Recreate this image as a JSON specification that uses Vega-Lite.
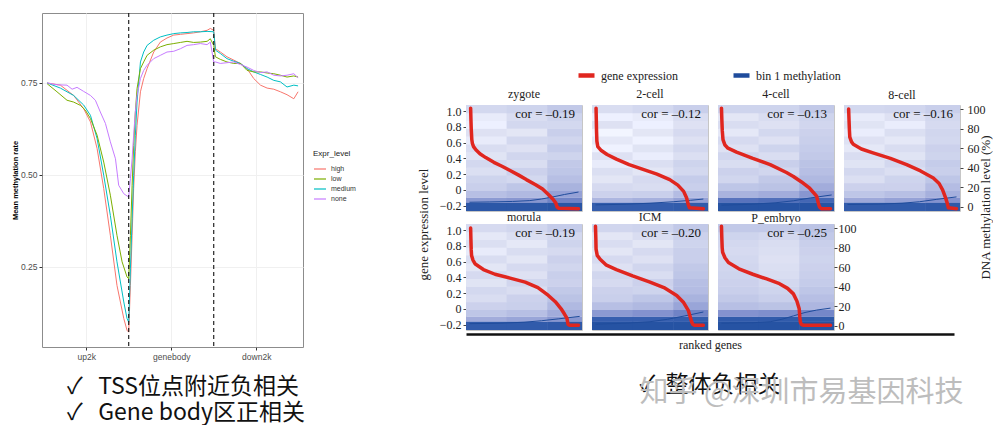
{
"$schema":"https://vega.github.io/schema/vega-lite/v6.json",
"background":"white",
"padding":{"left":10,"top":11,"right":0,"bottom":0},
"config":{"font":"Liberation Serif","view":{"stroke":"#c6c6c6","strokeWidth":1},"title":{"font":"Liberation Serif","fontSize":12,"fontWeight":"normal","color":"#222"},"axis":{"grid":false,"labelOverlap":false}},
"datasets":{
"prof":[
{"e":"high","x":2,"v":0.75},{"e":"high","x":9.8,"v":0.744},{"e":"high","x":17.6,"v":0.716},{"e":"high","x":23.5,"v":0.68},{"e":"high","x":27.5,"v":0.644},{"e":"high","x":31.4,"v":0.572},{"e":"high","x":35.3,"v":0.463},{"e":"high","x":39.2,"v":0.336},{"e":"high","x":43.1,"v":0.2},{"e":"high","x":47.1,"v":0.11},{"e":"high","x":49,"v":0.078},{"e":"high","x":50,"v":0.073},
{"e":"high","x":51,"v":0.2},{"e":"high","x":52,"v":0.336},{"e":"high","x":52.9,"v":0.463},{"e":"high","x":53.9,"v":0.563},{"e":"high","x":54.9,"v":0.635},{"e":"high","x":56.9,"v":0.726},{"e":"high","x":58.8,"v":0.762},{"e":"high","x":60.8,"v":0.789},{"e":"high","x":64.7,"v":0.834},{"e":"high","x":68.6,"v":0.861},{"e":"high","x":72.5,"v":0.872},{"e":"high","x":76.5,"v":0.88},{"e":"high","x":80.4,"v":0.882},{"e":"high","x":84.3,"v":0.884},{"e":"high","x":88.2,"v":0.886},{"e":"high","x":92.2,"v":0.889},{"e":"high","x":96.1,"v":0.893},{"e":"high","x":98,"v":0.898},{"e":"high","x":100,"v":0.893},
{"e":"high","x":101,"v":0.843},{"e":"high","x":103.9,"v":0.834},{"e":"high","x":107.8,"v":0.821},{"e":"high","x":111.8,"v":0.812},{"e":"high","x":115.7,"v":0.803},{"e":"high","x":119.6,"v":0.789},{"e":"high","x":123.5,"v":0.762},{"e":"high","x":127.5,"v":0.744},{"e":"high","x":131.4,"v":0.736},{"e":"high","x":135.3,"v":0.733},{"e":"high","x":139.2,"v":0.726},{"e":"high","x":143.1,"v":0.718},{"e":"high","x":147.1,"v":0.707},{"e":"high","x":149.6,"v":0.726},
{"e":"medium","x":2,"v":0.75},{"e":"medium","x":9.8,"v":0.736},{"e":"medium","x":17.6,"v":0.716},{"e":"medium","x":23.5,"v":0.69},{"e":"medium","x":27.5,"v":0.662},{"e":"medium","x":31.4,"v":0.599},{"e":"medium","x":35.3,"v":0.499},{"e":"medium","x":39.2,"v":0.39},{"e":"medium","x":43.1,"v":0.264},{"e":"medium","x":47.1,"v":0.155},{"e":"medium","x":49,"v":0.11},{"e":"medium","x":50,"v":0.1},
{"e":"medium","x":51,"v":0.245},{"e":"medium","x":52,"v":0.381},{"e":"medium","x":52.9,"v":0.499},{"e":"medium","x":53.9,"v":0.608},{"e":"medium","x":54.9,"v":0.698},{"e":"medium","x":56.9,"v":0.807},{"e":"medium","x":58.8,"v":0.834},{"e":"medium","x":60.8,"v":0.852},{"e":"medium","x":64.7,"v":0.866},{"e":"medium","x":68.6,"v":0.875},{"e":"medium","x":72.5,"v":0.88},{"e":"medium","x":76.5,"v":0.884},{"e":"medium","x":80.4,"v":0.886},{"e":"medium","x":84.3,"v":0.887},{"e":"medium","x":88.2,"v":0.889},{"e":"medium","x":92.2,"v":0.889},{"e":"medium","x":96.1,"v":0.89},{"e":"medium","x":100,"v":0.889},
{"e":"medium","x":101,"v":0.839},{"e":"medium","x":103.9,"v":0.83},{"e":"medium","x":107.8,"v":0.816},{"e":"medium","x":111.8,"v":0.809},{"e":"medium","x":115.7,"v":0.803},{"e":"medium","x":119.6,"v":0.789},{"e":"medium","x":123.5,"v":0.78},{"e":"medium","x":127.5,"v":0.773},{"e":"medium","x":131.4,"v":0.766},{"e":"medium","x":135.3,"v":0.757},{"e":"medium","x":139.2,"v":0.753},{"e":"medium","x":143.1,"v":0.739},{"e":"medium","x":147.1,"v":0.744},{"e":"medium","x":149.6,"v":0.742},
{"e":"low","x":2,"v":0.748},{"e":"low","x":7.8,"v":0.726},{"e":"low","x":13.7,"v":0.703},{"e":"low","x":17.6,"v":0.698},{"e":"low","x":21.6,"v":0.689},{"e":"low","x":24.5,"v":0.676},{"e":"low","x":27.5,"v":0.653},{"e":"low","x":31.4,"v":0.608},{"e":"low","x":35.3,"v":0.535},{"e":"low","x":39.2,"v":0.445},{"e":"low","x":43.1,"v":0.336},{"e":"low","x":46.1,"v":0.264},{"e":"low","x":49,"v":0.223},{"e":"low","x":50,"v":0.218},
{"e":"low","x":51,"v":0.336},{"e":"low","x":52,"v":0.472},{"e":"low","x":52.9,"v":0.58},{"e":"low","x":53.9,"v":0.671},{"e":"low","x":54.9,"v":0.735},{"e":"low","x":56.9,"v":0.789},{"e":"low","x":58.8,"v":0.807},{"e":"low","x":60.8,"v":0.825},{"e":"low","x":64.7,"v":0.839},{"e":"low","x":68.6,"v":0.848},{"e":"low","x":72.5,"v":0.854},{"e":"low","x":76.5,"v":0.857},{"e":"low","x":80.4,"v":0.86},{"e":"low","x":84.3,"v":0.863},{"e":"low","x":88.2,"v":0.86},{"e":"low","x":92.2,"v":0.861},{"e":"low","x":96.1,"v":0.863},{"e":"low","x":98,"v":0.87},{"e":"low","x":100,"v":0.852},
{"e":"low","x":101,"v":0.821},{"e":"low","x":103.9,"v":0.814},{"e":"low","x":107.8,"v":0.807},{"e":"low","x":111.8,"v":0.803},{"e":"low","x":115.7,"v":0.803},{"e":"low","x":119.6,"v":0.784},{"e":"low","x":123.5,"v":0.78},{"e":"low","x":127.5,"v":0.78},{"e":"low","x":131.4,"v":0.777},{"e":"low","x":135.3,"v":0.775},{"e":"low","x":139.2,"v":0.771},{"e":"low","x":143.1,"v":0.766},{"e":"low","x":147.1,"v":0.769},{"e":"low","x":149.6,"v":0.766},
{"e":"none","x":2,"v":0.75},{"e":"none","x":7.8,"v":0.745},{"e":"none","x":13.7,"v":0.744},{"e":"none","x":16.7,"v":0.733},{"e":"none","x":19.6,"v":0.738},{"e":"none","x":23.5,"v":0.727},{"e":"none","x":27.5,"v":0.716},{"e":"none","x":30.4,"v":0.703},{"e":"none","x":33.3,"v":0.671},{"e":"none","x":36.3,"v":0.64},{"e":"none","x":39.2,"v":0.59},{"e":"none","x":42.2,"v":0.544},{"e":"none","x":44.1,"v":0.472},{"e":"none","x":47.1,"v":0.449},{"e":"none","x":50,"v":0.44},
{"e":"none","x":51,"v":0.49},{"e":"none","x":52,"v":0.544},{"e":"none","x":52.9,"v":0.608},{"e":"none","x":53.9,"v":0.671},{"e":"none","x":54.9,"v":0.716},{"e":"none","x":56.9,"v":0.762},{"e":"none","x":58.8,"v":0.784},{"e":"none","x":60.8,"v":0.798},{"e":"none","x":64.7,"v":0.816},{"e":"none","x":68.6,"v":0.825},{"e":"none","x":72.5,"v":0.834},{"e":"none","x":76.5,"v":0.836},{"e":"none","x":80.4,"v":0.843},{"e":"none","x":84.3,"v":0.852},{"e":"none","x":88.2,"v":0.854},{"e":"none","x":92.2,"v":0.857},{"e":"none","x":96.1,"v":0.854},{"e":"none","x":98,"v":0.861},{"e":"none","x":100,"v":0.807},
{"e":"none","x":101,"v":0.807},{"e":"none","x":103.9,"v":0.803},{"e":"none","x":107.8,"v":0.805},{"e":"none","x":111.8,"v":0.807},{"e":"none","x":115.7,"v":0.8},{"e":"none","x":119.6,"v":0.793},{"e":"none","x":123.5,"v":0.784},{"e":"none","x":127.5,"v":0.778},{"e":"none","x":131.4,"v":0.78},{"e":"none","x":135.3,"v":0.771},{"e":"none","x":139.2,"v":0.769},{"e":"none","x":143.1,"v":0.771},{"e":"none","x":147.1,"v":0.775},{"e":"none","x":149.6,"v":0.764}
],
"bands":[{"b":0,"m":-4.5,"m2":4.5},{"b":1,"m":4,"m2":9.5},{"b":2,"m":9,"m2":16.5},{"b":3,"m":16,"m2":24.5},{"b":4,"m":24,"m2":32.5},{"b":5,"m":32,"m2":40.5},{"b":6,"m":40,"m2":48.5},{"b":7,"m":48,"m2":56.5},{"b":8,"m":56,"m2":64.5},{"b":9,"m":64,"m2":72.5},{"b":10,"m":72,"m2":80.5},{"b":11,"m":80,"m2":88.5},{"b":12,"m":88,"m2":96.5},{"b":13,"m":96,"m2":104.5}],
"cols":[{"c":0,"r":0,"r2":0.355},{"c":1,"r":0.35,"r2":0.705},{"c":2,"r":0.7,"r2":1}],
"heat":[
{"s":"z","b":0,"c":0,"d":5.6},{"s":"z","b":0,"c":1,"d":5.6},{"s":"z","b":0,"c":2,"d":5.7},{"s":"z","b":1,"c":0,"d":3.6},{"s":"z","b":1,"c":1,"d":3.7},{"s":"z","b":1,"c":2,"d":4.2},{"s":"z","b":2,"c":0,"d":2.5},{"s":"z","b":2,"c":1,"d":2.7},{"s":"z","b":2,"c":2,"d":3.4},{"s":"z","b":3,"c":0,"d":2.0},{"s":"z","b":3,"c":1,"d":2.3},{"s":"z","b":3,"c":2,"d":2.9},{"s":"z","b":4,"c":0,"d":1.8},{"s":"z","b":4,"c":1,"d":1.6},{"s":"z","b":4,"c":2,"d":2.5},{"s":"z","b":5,"c":0,"d":1.3},{"s":"z","b":5,"c":1,"d":1.9},{"s":"z","b":5,"c":2,"d":2.3},{"s":"z","b":6,"c":0,"d":1.6},{"s":"z","b":6,"c":1,"d":1.4},{"s":"z","b":6,"c":2,"d":2.2},{"s":"z","b":7,"c":0,"d":1.1},{"s":"z","b":7,"c":1,"d":1.7},{"s":"z","b":7,"c":2,"d":1.8},{"s":"z","b":8,"c":0,"d":1.4},{"s":"z","b":8,"c":1,"d":1.2},{"s":"z","b":8,"c":2,"d":2.1},{"s":"z","b":9,"c":0,"d":0.8},{"s":"z","b":9,"c":1,"d":1.6},{"s":"z","b":9,"c":2,"d":1.7},{"s":"z","b":10,"c":0,"d":1.2},{"s":"z","b":10,"c":1,"d":1.0},{"s":"z","b":10,"c":2,"d":2.0},{"s":"z","b":11,"c":0,"d":0.6},{"s":"z","b":11,"c":1,"d":1.6},{"s":"z","b":11,"c":2,"d":1.6},{"s":"z","b":12,"c":0,"d":0.8},{"s":"z","b":12,"c":1,"d":1.4},{"s":"z","b":12,"c":2,"d":1.8},{"s":"z","b":13,"c":0,"d":1.6},{"s":"z","b":13,"c":1,"d":1.8},{"s":"z","b":13,"c":2,"d":2.2},
{"s":"c2","b":0,"c":0,"d":5.3},{"s":"c2","b":0,"c":1,"d":5.3},{"s":"c2","b":0,"c":2,"d":5.4},{"s":"c2","b":1,"c":0,"d":2.8},{"s":"c2","b":1,"c":1,"d":3.0},{"s":"c2","b":1,"c":2,"d":3.4},{"s":"c2","b":2,"c":0,"d":1.9},{"s":"c2","b":2,"c":1,"d":2.0},{"s":"c2","b":2,"c":2,"d":2.6},{"s":"c2","b":3,"c":0,"d":1.5},{"s":"c2","b":3,"c":1,"d":1.4},{"s":"c2","b":3,"c":2,"d":2.0},{"s":"c2","b":4,"c":0,"d":1.0},{"s":"c2","b":4,"c":1,"d":1.5},{"s":"c2","b":4,"c":2,"d":2.1},{"s":"c2","b":5,"c":0,"d":1.3},{"s":"c2","b":5,"c":1,"d":1.0},{"s":"c2","b":5,"c":2,"d":1.6},{"s":"c2","b":6,"c":0,"d":0.8},{"s":"c2","b":6,"c":1,"d":1.3},{"s":"c2","b":6,"c":2,"d":1.8},{"s":"c2","b":7,"c":0,"d":1.2},{"s":"c2","b":7,"c":1,"d":0.7},{"s":"c2","b":7,"c":2,"d":1.3},{"s":"c2","b":8,"c":0,"d":0.5},{"s":"c2","b":8,"c":1,"d":1.1},{"s":"c2","b":8,"c":2,"d":1.6},{"s":"c2","b":9,"c":0,"d":0.9},{"s":"c2","b":9,"c":1,"d":0.5},{"s":"c2","b":9,"c":2,"d":1.2},{"s":"c2","b":10,"c":0,"d":0.4},{"s":"c2","b":10,"c":1,"d":1.0},{"s":"c2","b":10,"c":2,"d":1.5},{"s":"c2","b":11,"c":0,"d":1.2},{"s":"c2","b":11,"c":1,"d":0.6},{"s":"c2","b":11,"c":2,"d":1.2},{"s":"c2","b":12,"c":0,"d":0.6},{"s":"c2","b":12,"c":1,"d":0.8},{"s":"c2","b":12,"c":2,"d":1.4},{"s":"c2","b":13,"c":0,"d":1.4},{"s":"c2","b":13,"c":1,"d":1.6},{"s":"c2","b":13,"c":2,"d":2.0},
{"s":"c4","b":0,"c":0,"d":5.8},{"s":"c4","b":0,"c":1,"d":5.8},{"s":"c4","b":0,"c":2,"d":5.8},{"s":"c4","b":1,"c":0,"d":4.6},{"s":"c4","b":1,"c":1,"d":4.7},{"s":"c4","b":1,"c":2,"d":4.9},{"s":"c4","b":2,"c":0,"d":2.9},{"s":"c4","b":2,"c":1,"d":3.1},{"s":"c4","b":2,"c":2,"d":3.7},{"s":"c4","b":3,"c":0,"d":2.3},{"s":"c4","b":3,"c":1,"d":2.4},{"s":"c4","b":3,"c":2,"d":3.1},{"s":"c4","b":4,"c":0,"d":1.7},{"s":"c4","b":4,"c":1,"d":2.2},{"s":"c4","b":4,"c":2,"d":2.7},{"s":"c4","b":5,"c":0,"d":1.9},{"s":"c4","b":5,"c":1,"d":1.7},{"s":"c4","b":5,"c":2,"d":2.5},{"s":"c4","b":6,"c":0,"d":1.4},{"s":"c4","b":6,"c":1,"d":2.0},{"s":"c4","b":6,"c":2,"d":2.4},{"s":"c4","b":7,"c":0,"d":1.7},{"s":"c4","b":7,"c":1,"d":1.4},{"s":"c4","b":7,"c":2,"d":2.2},{"s":"c4","b":8,"c":0,"d":1.2},{"s":"c4","b":8,"c":1,"d":1.8},{"s":"c4","b":8,"c":2,"d":2.1},{"s":"c4","b":9,"c":0,"d":1.5},{"s":"c4","b":9,"c":1,"d":1.2},{"s":"c4","b":9,"c":2,"d":2.0},{"s":"c4","b":10,"c":0,"d":0.9},{"s":"c4","b":10,"c":1,"d":1.6},{"s":"c4","b":10,"c":2,"d":1.9},{"s":"c4","b":11,"c":0,"d":1.4},{"s":"c4","b":11,"c":1,"d":1.2},{"s":"c4","b":11,"c":2,"d":1.7},{"s":"c4","b":12,"c":0,"d":1.0},{"s":"c4","b":12,"c":1,"d":1.4},{"s":"c4","b":12,"c":2,"d":1.8},{"s":"c4","b":13,"c":0,"d":1.8},{"s":"c4","b":13,"c":1,"d":1.8},{"s":"c4","b":13,"c":2,"d":2.2},
{"s":"c8","b":0,"c":0,"d":5.4},{"s":"c8","b":0,"c":1,"d":5.4},{"s":"c8","b":0,"c":2,"d":5.5},{"s":"c8","b":1,"c":0,"d":3.2},{"s":"c8","b":1,"c":1,"d":3.4},{"s":"c8","b":1,"c":2,"d":3.8},{"s":"c8","b":2,"c":0,"d":2.3},{"s":"c8","b":2,"c":1,"d":2.5},{"s":"c8","b":2,"c":2,"d":3.0},{"s":"c8","b":3,"c":0,"d":1.9},{"s":"c8","b":3,"c":1,"d":1.9},{"s":"c8","b":3,"c":2,"d":2.6},{"s":"c8","b":4,"c":0,"d":1.3},{"s":"c8","b":4,"c":1,"d":1.8},{"s":"c8","b":4,"c":2,"d":2.3},{"s":"c8","b":5,"c":0,"d":1.6},{"s":"c8","b":5,"c":1,"d":1.3},{"s":"c8","b":5,"c":2,"d":2.0},{"s":"c8","b":6,"c":0,"d":1.1},{"s":"c8","b":6,"c":1,"d":1.6},{"s":"c8","b":6,"c":2,"d":2.1},{"s":"c8","b":7,"c":0,"d":1.4},{"s":"c8","b":7,"c":1,"d":1.1},{"s":"c8","b":7,"c":2,"d":1.8},{"s":"c8","b":8,"c":0,"d":0.9},{"s":"c8","b":8,"c":1,"d":1.4},{"s":"c8","b":8,"c":2,"d":1.9},{"s":"c8","b":9,"c":0,"d":1.2},{"s":"c8","b":9,"c":1,"d":0.9},{"s":"c8","b":9,"c":2,"d":1.6},{"s":"c8","b":10,"c":0,"d":0.7},{"s":"c8","b":10,"c":1,"d":1.3},{"s":"c8","b":10,"c":2,"d":1.7},{"s":"c8","b":11,"c":0,"d":1.1},{"s":"c8","b":11,"c":1,"d":0.7},{"s":"c8","b":11,"c":2,"d":1.5},{"s":"c8","b":12,"c":0,"d":0.8},{"s":"c8","b":12,"c":1,"d":1.2},{"s":"c8","b":12,"c":2,"d":1.6},{"s":"c8","b":13,"c":0,"d":1.6},{"s":"c8","b":13,"c":1,"d":1.7},{"s":"c8","b":13,"c":2,"d":2.0},
{"s":"mo","b":0,"c":0,"d":5.4},{"s":"mo","b":0,"c":1,"d":5.4},{"s":"mo","b":0,"c":2,"d":5.5},{"s":"mo","b":1,"c":0,"d":3.1},{"s":"mo","b":1,"c":1,"d":3.3},{"s":"mo","b":1,"c":2,"d":3.7},{"s":"mo","b":2,"c":0,"d":2.3},{"s":"mo","b":2,"c":1,"d":2.5},{"s":"mo","b":2,"c":2,"d":3.1},{"s":"mo","b":3,"c":0,"d":1.9},{"s":"mo","b":3,"c":1,"d":2.0},{"s":"mo","b":3,"c":2,"d":2.7},{"s":"mo","b":4,"c":0,"d":1.4},{"s":"mo","b":4,"c":1,"d":1.9},{"s":"mo","b":4,"c":2,"d":2.4},{"s":"mo","b":5,"c":0,"d":1.6},{"s":"mo","b":5,"c":1,"d":1.4},{"s":"mo","b":5,"c":2,"d":2.2},{"s":"mo","b":6,"c":0,"d":1.1},{"s":"mo","b":6,"c":1,"d":1.7},{"s":"mo","b":6,"c":2,"d":1.9},{"s":"mo","b":7,"c":0,"d":1.5},{"s":"mo","b":7,"c":1,"d":1.2},{"s":"mo","b":7,"c":2,"d":2.0},{"s":"mo","b":8,"c":0,"d":1.0},{"s":"mo","b":8,"c":1,"d":1.5},{"s":"mo","b":8,"c":2,"d":1.7},{"s":"mo","b":9,"c":0,"d":1.4},{"s":"mo","b":9,"c":1,"d":1.0},{"s":"mo","b":9,"c":2,"d":1.9},{"s":"mo","b":10,"c":0,"d":0.8},{"s":"mo","b":10,"c":1,"d":1.4},{"s":"mo","b":10,"c":2,"d":1.5},{"s":"mo","b":11,"c":0,"d":1.3},{"s":"mo","b":11,"c":1,"d":0.9},{"s":"mo","b":11,"c":2,"d":1.8},{"s":"mo","b":12,"c":0,"d":0.9},{"s":"mo","b":12,"c":1,"d":1.3},{"s":"mo","b":12,"c":2,"d":1.6},{"s":"mo","b":13,"c":0,"d":1.5},{"s":"mo","b":13,"c":1,"d":1.7},{"s":"mo","b":13,"c":2,"d":2.1},
{"s":"icm","b":0,"c":0,"d":5.8},{"s":"icm","b":0,"c":1,"d":5.8},{"s":"icm","b":0,"c":2,"d":5.8},{"s":"icm","b":1,"c":0,"d":5.2},{"s":"icm","b":1,"c":1,"d":5.2},{"s":"icm","b":1,"c":2,"d":5.3},{"s":"icm","b":2,"c":0,"d":3.6},{"s":"icm","b":2,"c":1,"d":3.8},{"s":"icm","b":2,"c":2,"d":4.2},{"s":"icm","b":3,"c":0,"d":2.5},{"s":"icm","b":3,"c":1,"d":2.7},{"s":"icm","b":3,"c":2,"d":3.3},{"s":"icm","b":4,"c":0,"d":2.0},{"s":"icm","b":4,"c":1,"d":2.3},{"s":"icm","b":4,"c":2,"d":2.9},{"s":"icm","b":5,"c":0,"d":1.9},{"s":"icm","b":5,"c":1,"d":1.8},{"s":"icm","b":5,"c":2,"d":2.6},{"s":"icm","b":6,"c":0,"d":1.5},{"s":"icm","b":6,"c":1,"d":1.9},{"s":"icm","b":6,"c":2,"d":2.5},{"s":"icm","b":7,"c":0,"d":1.7},{"s":"icm","b":7,"c":1,"d":1.4},{"s":"icm","b":7,"c":2,"d":2.3},{"s":"icm","b":8,"c":0,"d":1.2},{"s":"icm","b":8,"c":1,"d":1.7},{"s":"icm","b":8,"c":2,"d":2.2},{"s":"icm","b":9,"c":0,"d":1.5},{"s":"icm","b":9,"c":1,"d":1.2},{"s":"icm","b":9,"c":2,"d":2.0},{"s":"icm","b":10,"c":0,"d":1.0},{"s":"icm","b":10,"c":1,"d":1.5},{"s":"icm","b":10,"c":2,"d":2.0},{"s":"icm","b":11,"c":0,"d":1.4},{"s":"icm","b":11,"c":1,"d":1.0},{"s":"icm","b":11,"c":2,"d":1.8},{"s":"icm","b":12,"c":0,"d":1.0},{"s":"icm","b":12,"c":1,"d":1.4},{"s":"icm","b":12,"c":2,"d":1.9},{"s":"icm","b":13,"c":0,"d":1.7},{"s":"icm","b":13,"c":1,"d":1.8},{"s":"icm","b":13,"c":2,"d":2.2},
{"s":"pe","b":0,"c":0,"d":5.8},{"s":"pe","b":0,"c":1,"d":5.8},{"s":"pe","b":0,"c":2,"d":5.8},{"s":"pe","b":1,"c":0,"d":5.4},{"s":"pe","b":1,"c":1,"d":5.4},{"s":"pe","b":1,"c":2,"d":5.5},{"s":"pe","b":2,"c":0,"d":3.8},{"s":"pe","b":2,"c":1,"d":3.9},{"s":"pe","b":2,"c":2,"d":4.1},{"s":"pe","b":3,"c":0,"d":2.5},{"s":"pe","b":3,"c":1,"d":2.4},{"s":"pe","b":3,"c":2,"d":2.8},{"s":"pe","b":4,"c":0,"d":2.2},{"s":"pe","b":4,"c":1,"d":2.0},{"s":"pe","b":4,"c":2,"d":2.5},{"s":"pe","b":5,"c":0,"d":2.0},{"s":"pe","b":5,"c":1,"d":1.8},{"s":"pe","b":5,"c":2,"d":2.3},{"s":"pe","b":6,"c":0,"d":1.9},{"s":"pe","b":6,"c":1,"d":1.6},{"s":"pe","b":6,"c":2,"d":2.1},{"s":"pe","b":7,"c":0,"d":1.8},{"s":"pe","b":7,"c":1,"d":1.4},{"s":"pe","b":7,"c":2,"d":2.0},{"s":"pe","b":8,"c":0,"d":1.7},{"s":"pe","b":8,"c":1,"d":1.3},{"s":"pe","b":8,"c":2,"d":1.9},{"s":"pe","b":9,"c":0,"d":1.6},{"s":"pe","b":9,"c":1,"d":1.2},{"s":"pe","b":9,"c":2,"d":1.8},{"s":"pe","b":10,"c":0,"d":1.5},{"s":"pe","b":10,"c":1,"d":1.3},{"s":"pe","b":10,"c":2,"d":1.9},{"s":"pe","b":11,"c":0,"d":1.6},{"s":"pe","b":11,"c":1,"d":1.4},{"s":"pe","b":11,"c":2,"d":2.0},{"s":"pe","b":12,"c":0,"d":1.8},{"s":"pe","b":12,"c":1,"d":1.6},{"s":"pe","b":12,"c":2,"d":2.2},{"s":"pe","b":13,"c":0,"d":2.2},{"s":"pe","b":13,"c":1,"d":2.2},{"s":"pe","b":13,"c":2,"d":2.4}
],
"expr":[
{"s":"z","r":0.04,"g":1.04},{"s":"z","r":0.042,"g":0.92},{"s":"z","r":0.045,"g":0.78},{"s":"z","r":0.05,"g":0.64},{"s":"z","r":0.055,"g":0.59},{"s":"z","r":0.065,"g":0.55},{"s":"z","r":0.085,"g":0.51},{"s":"z","r":0.12,"g":0.46},{"s":"z","r":0.17,"g":0.41},{"s":"z","r":0.24,"g":0.35},{"s":"z","r":0.31,"g":0.3},{"s":"z","r":0.38,"g":0.245},{"s":"z","r":0.45,"g":0.19},{"s":"z","r":0.52,"g":0.13},{"s":"z","r":0.6,"g":0.065},{"s":"z","r":0.66,"g":0.01},{"s":"z","r":0.71,"g":-0.06},{"s":"z","r":0.75,"g":-0.12},{"s":"z","r":0.775,"g":-0.17},{"s":"z","r":0.785,"g":-0.22},{"s":"z","r":0.8,"g":-0.235},{"s":"z","r":0.97,"g":-0.24},
{"s":"c2","r":0.035,"g":1.04},{"s":"c2","r":0.037,"g":0.9},{"s":"c2","r":0.039,"g":0.75},{"s":"c2","r":0.042,"g":0.62},{"s":"c2","r":0.05,"g":0.55},{"s":"c2","r":0.08,"g":0.5},{"s":"c2","r":0.13,"g":0.45},{"s":"c2","r":0.21,"g":0.39},{"s":"c2","r":0.32,"g":0.32},{"s":"c2","r":0.44,"g":0.26},{"s":"c2","r":0.56,"g":0.2},{"s":"c2","r":0.67,"g":0.13},{"s":"c2","r":0.74,"g":0.06},{"s":"c2","r":0.79,"g":-0.02},{"s":"c2","r":0.815,"g":-0.1},{"s":"c2","r":0.83,"g":-0.19},{"s":"c2","r":0.84,"g":-0.23},{"s":"c2","r":0.96,"g":-0.24},
{"s":"c4","r":0.03,"g":1.04},{"s":"c4","r":0.033,"g":0.9},{"s":"c4","r":0.037,"g":0.75},{"s":"c4","r":0.043,"g":0.64},{"s":"c4","r":0.06,"g":0.57},{"s":"c4","r":0.086,"g":0.53},{"s":"c4","r":0.16,"g":0.48},{"s":"c4","r":0.3,"g":0.4},{"s":"c4","r":0.45,"g":0.32},{"s":"c4","r":0.59,"g":0.22},{"s":"c4","r":0.65,"g":0.17},{"s":"c4","r":0.72,"g":0.1},{"s":"c4","r":0.79,"g":0.02},{"s":"c4","r":0.85,"g":-0.08},{"s":"c4","r":0.865,"g":-0.17},{"s":"c4","r":0.875,"g":-0.22},{"s":"c4","r":0.89,"g":-0.24},{"s":"c4","r":0.97,"g":-0.24},
{"s":"c8","r":0.04,"g":1.03},{"s":"c8","r":0.043,"g":0.9},{"s":"c8","r":0.047,"g":0.75},{"s":"c8","r":0.05,"g":0.67},{"s":"c8","r":0.065,"g":0.61},{"s":"c8","r":0.08,"g":0.58},{"s":"c8","r":0.15,"g":0.52},{"s":"c8","r":0.25,"g":0.47},{"s":"c8","r":0.4,"g":0.4},{"s":"c8","r":0.54,"g":0.32},{"s":"c8","r":0.66,"g":0.24},{"s":"c8","r":0.77,"g":0.15},{"s":"c8","r":0.82,"g":0.08},{"s":"c8","r":0.85,"g":0},{"s":"c8","r":0.875,"g":-0.1},{"s":"c8","r":0.89,"g":-0.17},{"s":"c8","r":0.9,"g":-0.23},{"s":"c8","r":0.97,"g":-0.24},
{"s":"mo","r":0.04,"g":1.03},{"s":"mo","r":0.042,"g":0.9},{"s":"mo","r":0.045,"g":0.75},{"s":"mo","r":0.048,"g":0.68},{"s":"mo","r":0.06,"g":0.62},{"s":"mo","r":0.08,"g":0.57},{"s":"mo","r":0.15,"g":0.5},{"s":"mo","r":0.25,"g":0.44},{"s":"mo","r":0.38,"g":0.39},{"s":"mo","r":0.51,"g":0.34},{"s":"mo","r":0.62,"g":0.27},{"s":"mo","r":0.71,"g":0.17},{"s":"mo","r":0.77,"g":0.09},{"s":"mo","r":0.82,"g":0},{"s":"mo","r":0.85,"g":-0.07},{"s":"mo","r":0.87,"g":-0.12},{"s":"mo","r":0.88,"g":-0.2},{"s":"mo","r":0.895,"g":-0.21},{"s":"mo","r":0.97,"g":-0.21},
{"s":"icm","r":0.03,"g":1.05},{"s":"icm","r":0.033,"g":0.9},{"s":"icm","r":0.035,"g":0.76},{"s":"icm","r":0.045,"g":0.68},{"s":"icm","r":0.07,"g":0.63},{"s":"icm","r":0.12,"g":0.56},{"s":"icm","r":0.21,"g":0.5},{"s":"icm","r":0.35,"g":0.42},{"s":"icm","r":0.5,"g":0.34},{"s":"icm","r":0.62,"g":0.27},{"s":"icm","r":0.73,"g":0.17},{"s":"icm","r":0.79,"g":0.08},{"s":"icm","r":0.83,"g":-0.02},{"s":"icm","r":0.85,"g":-0.12},{"s":"icm","r":0.86,"g":-0.17},{"s":"icm","r":0.87,"g":-0.2},{"s":"icm","r":0.885,"g":-0.21},{"s":"icm","r":0.96,"g":-0.21},
{"s":"pe","r":0.03,"g":1.05},{"s":"pe","r":0.033,"g":0.9},{"s":"pe","r":0.036,"g":0.78},{"s":"pe","r":0.04,"g":0.72},{"s":"pe","r":0.06,"g":0.65},{"s":"pe","r":0.09,"g":0.59},{"s":"pe","r":0.18,"g":0.51},{"s":"pe","r":0.3,"g":0.44},{"s":"pe","r":0.42,"g":0.38},{"s":"pe","r":0.53,"g":0.32},{"s":"pe","r":0.6,"g":0.26},{"s":"pe","r":0.65,"g":0.19},{"s":"pe","r":0.68,"g":0.1},{"s":"pe","r":0.7,"g":0},{"s":"pe","r":0.705,"g":-0.1},{"s":"pe","r":0.71,"g":-0.17},{"s":"pe","r":0.72,"g":-0.2},{"s":"pe","r":0.74,"g":-0.21},{"s":"pe","r":0.97,"g":-0.21}
],
"meth":[
{"s":"z","r":0.03,"m":4.5},{"s":"z","r":0.2,"m":4.8},{"s":"z","r":0.4,"m":5.3},{"s":"z","r":0.55,"m":6.2},{"s":"z","r":0.65,"m":7.8},{"s":"z","r":0.75,"m":10},{"s":"z","r":0.85,"m":12.5},{"s":"z","r":0.97,"m":15},
{"s":"c2","r":0.03,"m":1.8},{"s":"c2","r":0.3,"m":2.5},{"s":"c2","r":0.5,"m":3.5},{"s":"c2","r":0.7,"m":5},{"s":"c2","r":0.85,"m":6.5},{"s":"c2","r":0.96,"m":7.8},
{"s":"c4","r":0.03,"m":1.5},{"s":"c4","r":0.3,"m":2.5},{"s":"c4","r":0.5,"m":4},{"s":"c4","r":0.65,"m":6},{"s":"c4","r":0.8,"m":9},{"s":"c4","r":0.98,"m":12},
{"s":"c8","r":0.03,"m":2.2},{"s":"c8","r":0.3,"m":2.6},{"s":"c8","r":0.5,"m":3.5},{"s":"c8","r":0.65,"m":5},{"s":"c8","r":0.8,"m":7.5},{"s":"c8","r":0.97,"m":10},
{"s":"mo","r":0.03,"m":2},{"s":"mo","r":0.3,"m":2.5},{"s":"mo","r":0.5,"m":3.5},{"s":"mo","r":0.65,"m":5},{"s":"mo","r":0.8,"m":7},{"s":"mo","r":0.98,"m":9.5},
{"s":"icm","r":0.03,"m":1.5},{"s":"icm","r":0.3,"m":2.5},{"s":"icm","r":0.5,"m":4},{"s":"icm","r":0.65,"m":6.5},{"s":"icm","r":0.8,"m":10},{"s":"icm","r":0.96,"m":14},
{"s":"pe","r":0.03,"m":2.5},{"s":"pe","r":0.3,"m":3},{"s":"pe","r":0.45,"m":4},{"s":"pe","r":0.55,"m":6.5},{"s":"pe","r":0.65,"m":10},{"s":"pe","r":0.75,"m":13.5},{"s":"pe","r":0.85,"m":16},{"s":"pe","r":0.97,"m":18}
],
"cors":[{"s":"z","t":"cor = –0.19"},{"s":"c2","t":"cor = –0.12"},{"s":"c4","t":"cor = –0.13"},{"s":"c8","t":"cor = –0.16"},{"s":"mo","t":"cor = –0.19"},{"s":"icm","t":"cor = –0.20"},{"s":"pe","t":"cor = –0.25"}]
},
"hconcat":[
{
"width":261,"height":334,
"view":{"stroke":"#8c8c8c"},
"title":{"text":["✓\u00a0\u00a0 TSS位点附近负相关","✓\u00a0\u00a0 Gene body区正相关"],"orient":"bottom","anchor":"start","frame":"group","dx":25,"offset":15,"font":"Noto Sans CJK SC","fontSize":23,"fontWeight":"normal","lineHeight":26,"color":"#111"},
"layer":[
{"data":{"name":"prof"},"mark":{"type":"line","strokeWidth":1},
"encoding":{
"x":{"field":"x","type":"quantitative","scale":{"domain":[-1,152.5],"nice":false,"zero":false},"axis":{"values":[25,75,125],"labelExpr":"datum.value == 25 ? 'up2k' : datum.value == 75 ? 'genebody' : 'down2k'","title":null,"domain":false,"grid":true,"gridColor":"#f0f0f0","tickSize":3,"tickColor":"#333","labelFont":"Liberation Sans","labelFontSize":8.5,"labelColor":"#4d4d4d","labelPadding":2}},
"y":{"field":"v","type":"quantitative","scale":{"domain":[0.0326,0.94],"nice":false,"zero":false},"axis":{"values":[0.25,0.5,0.75],"format":".2f","title":"Mean methylation rate","titleFont":"Liberation Sans","titleFontSize":7.5,"titleFontWeight":"bold","titleColor":"#000","titlePadding":1,"domain":false,"grid":true,"gridColor":"#f0f0f0","tickSize":3,"tickColor":"#333","labelFont":"Liberation Sans","labelFontSize":8.5,"labelColor":"#4d4d4d","labelPadding":2}},
"color":{"field":"e","type":"nominal","scale":{"domain":["high","low","medium","none"],"range":["#F8766D","#7CAE00","#00BFC4","#C77CFF"]},"legend":{"title":"Expr_level","orient":"none","legendX":271,"legendY":137,"titleFont":"Liberation Sans","titleFontSize":8,"titleFontWeight":"normal","titleColor":"#222","titlePadding":4,"labelFont":"Liberation Sans","labelFontSize":7,"labelColor":"#333","symbolType":"stroke","symbolSize":144,"symbolStrokeWidth":1.2,"rowPadding":0,"labelOffset":4,"padding":0}}
}},
{"data":{"values":[{"bx":50},{"bx":100}]},"mark":{"type":"rule","strokeDash":[4,3],"color":"#111","strokeWidth":1.1},"encoding":{"x":{"field":"bx","type":"quantitative"}}}
]
},
{
"vconcat":[
{"width":1,"height":52,"view":{"stroke":null},"data":{"values":[{"u":1}]},"mark":{"type":"point","opacity":0},"encoding":{}},
{"vconcat":[
{"vconcat":[
{"hconcat":[
{"title":{"text":"zygote","offset":4},"width":116,"height":106,
"layer":[
{"layer":[
{"data":{"name":"heat"},"transform":[{"filter":"datum.s==='z'"},{"lookup":"b","from":{"data":{"name":"bands"},"key":"b","fields":["m","m2"]}},{"lookup":"c","from":{"data":{"name":"cols"},"key":"c","fields":["r","r2"]}}],"mark":{"type":"rect"},"encoding":{"x":{"field":"r","type":"quantitative","scale":{"domain":[0,1],"nice":false,"zero":false},"axis":null},"x2":{"field":"r2"},"y":{"field":"m","type":"quantitative","scale":{"domain":[-4.5,104.5],"nice":false,"zero":false},"axis":null},"y2":{"field":"m2"},"fill":{"field":"d","type":"quantitative","scale":{"domain":[0,1,2,3,4,5,6],"range":["#ffffff","#e3e6f5","#c9cfeb","#a6b0dd","#7b8bcb","#3c63b3","#1f4f9f"]},"legend":null}}},
{"data":{"name":"meth"},"transform":[{"filter":"datum.s==='z'"}],"mark":{"type":"line","strokeWidth":1,"strokeJoin":"round"},"encoding":{"x":{"field":"r","type":"quantitative","axis":null},"y":{"field":"m","type":"quantitative","axis":null},"stroke":{"datum":"bin 1 methylation","type":"nominal","scale":{"domain":["gene expression","bin 1 methylation"],"range":["#e0261f","#1f4c9c"]}}}}
]},
{"layer":[
{"data":{"name":"expr"},"transform":[{"filter":"datum.s==='z'"}],"mark":{"type":"line","strokeWidth":3.5,"strokeJoin":"round","strokeCap":"round"},"encoding":{"x":{"field":"r","type":"quantitative","axis":null},"y":{"field":"g","type":"quantitative","scale":{"domain":[-0.27,1.08],"nice":false,"zero":false},"axis":{"orient":"left","values":[-0.2,0,0.2,0.4,0.6,0.8,1],"tickCount":20,"labelExpr":"datum.value === 0 ? '0' : format(datum.value, '.1f')","labelOverlap":false,"title":null,"domain":false,"grid":false,"tickSize":3,"tickColor":"#444","labelFont":"Liberation Serif","labelFontSize":12,"labelColor":"#222","labelPadding":2,"minExtent":27,"maxExtent":27}},"stroke":{"datum":"gene expression","type":"nominal","legend":{"orient":"none","legendX":110,"legendY":-40,"direction":"horizontal","gridAlign":"none","title":null,"symbolType":"stroke","symbolSize":256,"symbolStrokeWidth":4.5,"labelFont":"Liberation Serif","labelFontSize":12,"labelColor":"#222","labelOffset":4,"columnPadding":46,"padding":0}}}},
{"data":{"name":"cors"},"transform":[{"filter":"datum.s==='z'"}],"mark":{"type":"text","align":"right","baseline":"middle","fontSize":13,"color":"#111"},"encoding":{"x":{"datum":0.94,"type":"quantitative","axis":null},"y":{"datum":0.97,"type":"quantitative"},"text":{"field":"t"}}}
]}
],
"resolve":{"scale":{"y":"independent"}}},
{"title":{"text":"2-cell","offset":4},"width":116,"height":106,
"layer":[
{"layer":[
{"data":{"name":"heat"},"transform":[{"filter":"datum.s==='c2'"},{"lookup":"b","from":{"data":{"name":"bands"},"key":"b","fields":["m","m2"]}},{"lookup":"c","from":{"data":{"name":"cols"},"key":"c","fields":["r","r2"]}}],"mark":{"type":"rect"},"encoding":{"x":{"field":"r","type":"quantitative","scale":{"domain":[0,1],"nice":false,"zero":false},"axis":null},"x2":{"field":"r2"},"y":{"field":"m","type":"quantitative","scale":{"domain":[-4.5,104.5],"nice":false,"zero":false},"axis":null},"y2":{"field":"m2"},"fill":{"field":"d","type":"quantitative","scale":{"domain":[0,1,2,3,4,5,6],"range":["#ffffff","#e3e6f5","#c9cfeb","#a6b0dd","#7b8bcb","#3c63b3","#1f4f9f"]},"legend":null}}},
{"data":{"name":"meth"},"transform":[{"filter":"datum.s==='c2'"}],"mark":{"type":"line","strokeWidth":1,"strokeJoin":"round"},"encoding":{"x":{"field":"r","type":"quantitative","axis":null},"y":{"field":"m","type":"quantitative","axis":null},"stroke":{"datum":"bin 1 methylation","type":"nominal","scale":{"domain":["gene expression","bin 1 methylation"],"range":["#e0261f","#1f4c9c"]}}}}
]},
{"layer":[
{"data":{"name":"expr"},"transform":[{"filter":"datum.s==='c2'"}],"mark":{"type":"line","strokeWidth":3.5,"strokeJoin":"round","strokeCap":"round"},"encoding":{"x":{"field":"r","type":"quantitative","axis":null},"y":{"field":"g","type":"quantitative","scale":{"domain":[-0.27,1.08],"nice":false,"zero":false},"axis":null},"stroke":{"datum":"gene expression","type":"nominal"}}},
{"data":{"name":"cors"},"transform":[{"filter":"datum.s==='c2'"}],"mark":{"type":"text","align":"right","baseline":"middle","fontSize":13,"color":"#111"},"encoding":{"x":{"datum":0.94,"type":"quantitative","axis":null},"y":{"datum":0.97,"type":"quantitative","axis":null},"text":{"field":"t"}}}
]}
],
"resolve":{"scale":{"y":"independent"}}},
{"title":{"text":"4-cell","offset":4},"width":116,"height":106,
"layer":[
{"layer":[
{"data":{"name":"heat"},"transform":[{"filter":"datum.s==='c4'"},{"lookup":"b","from":{"data":{"name":"bands"},"key":"b","fields":["m","m2"]}},{"lookup":"c","from":{"data":{"name":"cols"},"key":"c","fields":["r","r2"]}}],"mark":{"type":"rect"},"encoding":{"x":{"field":"r","type":"quantitative","scale":{"domain":[0,1],"nice":false,"zero":false},"axis":null},"x2":{"field":"r2"},"y":{"field":"m","type":"quantitative","scale":{"domain":[-4.5,104.5],"nice":false,"zero":false},"axis":null},"y2":{"field":"m2"},"fill":{"field":"d","type":"quantitative","scale":{"domain":[0,1,2,3,4,5,6],"range":["#ffffff","#e3e6f5","#c9cfeb","#a6b0dd","#7b8bcb","#3c63b3","#1f4f9f"]},"legend":null}}},
{"data":{"name":"meth"},"transform":[{"filter":"datum.s==='c4'"}],"mark":{"type":"line","strokeWidth":1,"strokeJoin":"round"},"encoding":{"x":{"field":"r","type":"quantitative","axis":null},"y":{"field":"m","type":"quantitative","axis":null},"stroke":{"datum":"bin 1 methylation","type":"nominal","scale":{"domain":["gene expression","bin 1 methylation"],"range":["#e0261f","#1f4c9c"]}}}}
]},
{"layer":[
{"data":{"name":"expr"},"transform":[{"filter":"datum.s==='c4'"}],"mark":{"type":"line","strokeWidth":3.5,"strokeJoin":"round","strokeCap":"round"},"encoding":{"x":{"field":"r","type":"quantitative","axis":null},"y":{"field":"g","type":"quantitative","scale":{"domain":[-0.27,1.08],"nice":false,"zero":false},"axis":null},"stroke":{"datum":"gene expression","type":"nominal"}}},
{"data":{"name":"cors"},"transform":[{"filter":"datum.s==='c4'"}],"mark":{"type":"text","align":"right","baseline":"middle","fontSize":13,"color":"#111"},"encoding":{"x":{"datum":0.94,"type":"quantitative","axis":null},"y":{"datum":0.97,"type":"quantitative","axis":null},"text":{"field":"t"}}}
]}
],
"resolve":{"scale":{"y":"independent"}}},
{"title":{"text":"8-cell","offset":1.5},"width":116,"height":106,
"layer":[
{"layer":[
{"data":{"name":"heat"},"transform":[{"filter":"datum.s==='c8'"},{"lookup":"b","from":{"data":{"name":"bands"},"key":"b","fields":["m","m2"]}},{"lookup":"c","from":{"data":{"name":"cols"},"key":"c","fields":["r","r2"]}}],"mark":{"type":"rect"},"encoding":{"x":{"field":"r","type":"quantitative","scale":{"domain":[0,1],"nice":false,"zero":false},"axis":null},"x2":{"field":"r2"},"y":{"field":"m","type":"quantitative","scale":{"domain":[-4.5,104.5],"nice":false,"zero":false},"axis":{"orient":"right","values":[0,20,40,60,80,100],"tickCount":20,"labelOverlap":false,"title":null,"domain":false,"grid":false,"tickSize":3,"tickColor":"#444","labelFont":"Liberation Serif","labelFontSize":12,"labelColor":"#222","labelPadding":4}},"y2":{"field":"m2"},"fill":{"field":"d","type":"quantitative","scale":{"domain":[0,1,2,3,4,5,6],"range":["#ffffff","#e3e6f5","#c9cfeb","#a6b0dd","#7b8bcb","#3c63b3","#1f4f9f"]},"legend":null}}},
{"data":{"name":"meth"},"transform":[{"filter":"datum.s==='c8'"}],"mark":{"type":"line","strokeWidth":1,"strokeJoin":"round"},"encoding":{"x":{"field":"r","type":"quantitative","axis":null},"y":{"field":"m","type":"quantitative"},"stroke":{"datum":"bin 1 methylation","type":"nominal","scale":{"domain":["gene expression","bin 1 methylation"],"range":["#e0261f","#1f4c9c"]}}}}
]},
{"layer":[
{"data":{"name":"expr"},"transform":[{"filter":"datum.s==='c8'"}],"mark":{"type":"line","strokeWidth":3.5,"strokeJoin":"round","strokeCap":"round"},"encoding":{"x":{"field":"r","type":"quantitative","axis":null},"y":{"field":"g","type":"quantitative","scale":{"domain":[-0.27,1.08],"nice":false,"zero":false},"axis":null},"stroke":{"datum":"gene expression","type":"nominal"}}},
{"data":{"name":"cors"},"transform":[{"filter":"datum.s==='c8'"}],"mark":{"type":"text","align":"right","baseline":"middle","fontSize":13,"color":"#111"},"encoding":{"x":{"datum":0.94,"type":"quantitative","axis":null},"y":{"datum":0.97,"type":"quantitative","axis":null},"text":{"field":"t"}}}
]}
],
"resolve":{"scale":{"y":"independent"}}}
],"spacing":8},
{"hconcat":[
{"title":{"text":"morula","offset":0},"width":116,"height":106,
"layer":[
{"layer":[
{"data":{"name":"heat"},"transform":[{"filter":"datum.s==='mo'"},{"lookup":"b","from":{"data":{"name":"bands"},"key":"b","fields":["m","m2"]}},{"lookup":"c","from":{"data":{"name":"cols"},"key":"c","fields":["r","r2"]}}],"mark":{"type":"rect"},"encoding":{"x":{"field":"r","type":"quantitative","scale":{"domain":[0,1],"nice":false,"zero":false},"axis":null},"x2":{"field":"r2"},"y":{"field":"m","type":"quantitative","scale":{"domain":[-4.5,104.5],"nice":false,"zero":false},"axis":null},"y2":{"field":"m2"},"fill":{"field":"d","type":"quantitative","scale":{"domain":[0,1,2,3,4,5,6],"range":["#ffffff","#e3e6f5","#c9cfeb","#a6b0dd","#7b8bcb","#3c63b3","#1f4f9f"]},"legend":null}}},
{"data":{"name":"meth"},"transform":[{"filter":"datum.s==='mo'"}],"mark":{"type":"line","strokeWidth":1,"strokeJoin":"round"},"encoding":{"x":{"field":"r","type":"quantitative","axis":null},"y":{"field":"m","type":"quantitative","axis":null},"stroke":{"datum":"bin 1 methylation","type":"nominal","scale":{"domain":["gene expression","bin 1 methylation"],"range":["#e0261f","#1f4c9c"]},"legend":null}}}
]},
{"layer":[
{"data":{"name":"expr"},"transform":[{"filter":"datum.s==='mo'"}],"mark":{"type":"line","strokeWidth":3.5,"strokeJoin":"round","strokeCap":"round"},"encoding":{"x":{"field":"r","type":"quantitative","axis":null},"y":{"field":"g","type":"quantitative","scale":{"domain":[-0.27,1.08],"nice":false,"zero":false},"axis":{"orient":"left","values":[-0.2,0,0.2,0.4,0.6,0.8,1],"tickCount":20,"labelExpr":"datum.value === 0 ? '0' : format(datum.value, '.1f')","labelOverlap":false,"title":null,"domain":false,"grid":false,"tickSize":3,"tickColor":"#444","labelFont":"Liberation Serif","labelFontSize":12,"labelColor":"#222","labelPadding":2,"minExtent":27,"maxExtent":27}},"stroke":{"datum":"gene expression","type":"nominal","legend":null}}},
{"data":{"name":"cors"},"transform":[{"filter":"datum.s==='mo'"}],"mark":{"type":"text","align":"right","baseline":"middle","fontSize":13,"color":"#111"},"encoding":{"x":{"datum":0.94,"type":"quantitative","axis":null},"y":{"datum":0.97,"type":"quantitative"},"text":{"field":"t"}}}
]}
],
"resolve":{"scale":{"y":"independent"}}},
{"title":{"text":"ICM","offset":0},"width":116,"height":106,
"layer":[
{"layer":[
{"data":{"name":"heat"},"transform":[{"filter":"datum.s==='icm'"},{"lookup":"b","from":{"data":{"name":"bands"},"key":"b","fields":["m","m2"]}},{"lookup":"c","from":{"data":{"name":"cols"},"key":"c","fields":["r","r2"]}}],"mark":{"type":"rect"},"encoding":{"x":{"field":"r","type":"quantitative","scale":{"domain":[0,1],"nice":false,"zero":false},"axis":null},"x2":{"field":"r2"},"y":{"field":"m","type":"quantitative","scale":{"domain":[-4.5,104.5],"nice":false,"zero":false},"axis":null},"y2":{"field":"m2"},"fill":{"field":"d","type":"quantitative","scale":{"domain":[0,1,2,3,4,5,6],"range":["#ffffff","#e3e6f5","#c9cfeb","#a6b0dd","#7b8bcb","#3c63b3","#1f4f9f"]},"legend":null}}},
{"data":{"name":"meth"},"transform":[{"filter":"datum.s==='icm'"}],"mark":{"type":"line","strokeWidth":1,"strokeJoin":"round"},"encoding":{"x":{"field":"r","type":"quantitative","axis":null},"y":{"field":"m","type":"quantitative","axis":null},"stroke":{"datum":"bin 1 methylation","type":"nominal","scale":{"domain":["gene expression","bin 1 methylation"],"range":["#e0261f","#1f4c9c"]},"legend":null}}}
]},
{"layer":[
{"data":{"name":"expr"},"transform":[{"filter":"datum.s==='icm'"}],"mark":{"type":"line","strokeWidth":3.5,"strokeJoin":"round","strokeCap":"round"},"encoding":{"x":{"field":"r","type":"quantitative","axis":null},"y":{"field":"g","type":"quantitative","scale":{"domain":[-0.27,1.08],"nice":false,"zero":false},"axis":null},"stroke":{"datum":"gene expression","type":"nominal","legend":null}}},
{"data":{"name":"cors"},"transform":[{"filter":"datum.s==='icm'"}],"mark":{"type":"text","align":"right","baseline":"middle","fontSize":13,"color":"#111"},"encoding":{"x":{"datum":0.94,"type":"quantitative","axis":null},"y":{"datum":0.97,"type":"quantitative","axis":null},"text":{"field":"t"}}}
]}
],
"resolve":{"scale":{"y":"independent"}}},
{"title":{"text":"P_embryo","offset":-2.5},"width":116,"height":106,
"layer":[
{"layer":[
{"data":{"name":"heat"},"transform":[{"filter":"datum.s==='pe'"},{"lookup":"b","from":{"data":{"name":"bands"},"key":"b","fields":["m","m2"]}},{"lookup":"c","from":{"data":{"name":"cols"},"key":"c","fields":["r","r2"]}}],"mark":{"type":"rect"},"encoding":{"x":{"field":"r","type":"quantitative","scale":{"domain":[0,1],"nice":false,"zero":false},"axis":null},"x2":{"field":"r2"},"y":{"field":"m","type":"quantitative","scale":{"domain":[-4.5,104.5],"nice":false,"zero":false},"axis":{"orient":"right","values":[0,20,40,60,80,100],"tickCount":20,"labelOverlap":false,"title":null,"domain":false,"grid":false,"tickSize":3,"tickColor":"#444","labelFont":"Liberation Serif","labelFontSize":12,"labelColor":"#222","labelPadding":1}},"y2":{"field":"m2"},"fill":{"field":"d","type":"quantitative","scale":{"domain":[0,1,2,3,4,5,6],"range":["#ffffff","#e3e6f5","#c9cfeb","#a6b0dd","#7b8bcb","#3c63b3","#1f4f9f"]},"legend":null}}},
{"data":{"name":"meth"},"transform":[{"filter":"datum.s==='pe'"}],"mark":{"type":"line","strokeWidth":1,"strokeJoin":"round"},"encoding":{"x":{"field":"r","type":"quantitative","axis":null},"y":{"field":"m","type":"quantitative"},"stroke":{"datum":"bin 1 methylation","type":"nominal","scale":{"domain":["gene expression","bin 1 methylation"],"range":["#e0261f","#1f4c9c"]},"legend":null}}}
]},
{"layer":[
{"data":{"name":"expr"},"transform":[{"filter":"datum.s==='pe'"}],"mark":{"type":"line","strokeWidth":3.5,"strokeJoin":"round","strokeCap":"round"},"encoding":{"x":{"field":"r","type":"quantitative","axis":null},"y":{"field":"g","type":"quantitative","scale":{"domain":[-0.27,1.08],"nice":false,"zero":false},"axis":null},"stroke":{"datum":"gene expression","type":"nominal","legend":null}}},
{"data":{"name":"cors"},"transform":[{"filter":"datum.s==='pe'"}],"mark":{"type":"text","align":"right","baseline":"middle","fontSize":13,"color":"#111"},"encoding":{"x":{"datum":0.94,"type":"quantitative","axis":null},"y":{"datum":0.97,"type":"quantitative","axis":null},"text":{"field":"t"}}}
]}
],
"resolve":{"scale":{"y":"independent"}}}
],"spacing":8},
{"width":488,"height":1,"view":{"stroke":null},"data":{"values":[{"u":0.5}]},"mark":{"type":"point","opacity":0},
"encoding":{
"x":{"field":"u","type":"quantitative","scale":{"domain":[0,1],"nice":false},"axis":{"orient":"bottom","labels":false,"ticks":false,"grid":false,"domain":true,"domainColor":"#111","domainWidth":2.5,"title":"ranked genes","titleFont":"Liberation Serif","titleFontSize":12,"titleFontWeight":"normal","titleColor":"#222","titlePadding":5}},
"y":{"field":"u","type":"quantitative","scale":{"domain":[0,1]},"axis":{"labels":false,"ticks":false,"domain":false,"grid":false,"title":null,"minExtent":27,"maxExtent":27}}
}}
],
"spacing":-4,
"resolve":{"scale":{"stroke":"independent"}},
"title":{"text":"gene expression level","orient":"left","anchor":"middle","offset":8,"dx":-17,"font":"Liberation Serif","fontSize":13,"fontWeight":"normal","color":"#222"}
}
],
"title":{"text":"DNA methylation level (%)","orient":"right","angle":-90,"baseline":"top","anchor":"middle","offset":-19,"font":"Liberation Serif","fontSize":13,"fontWeight":"normal","color":"#222"}
}
],
"spacing":0,
"title":{"text":"✓\u00a0 整体负相关","subtitle":"知乎 @深圳市易基因科技","orient":"bottom","anchor":"start","dx":222,"offset":24,"font":"Noto Sans CJK SC","fontSize":23,"fontWeight":"normal","color":"#111","subtitleFont":"Noto Sans CJK SC","subtitleFontSize":29,"subtitleColor":"#bdbdbd","subtitlePadding":-18}
}
],
"spacing":60,
"resolve":{"scale":{"color":"independent"}}
}
